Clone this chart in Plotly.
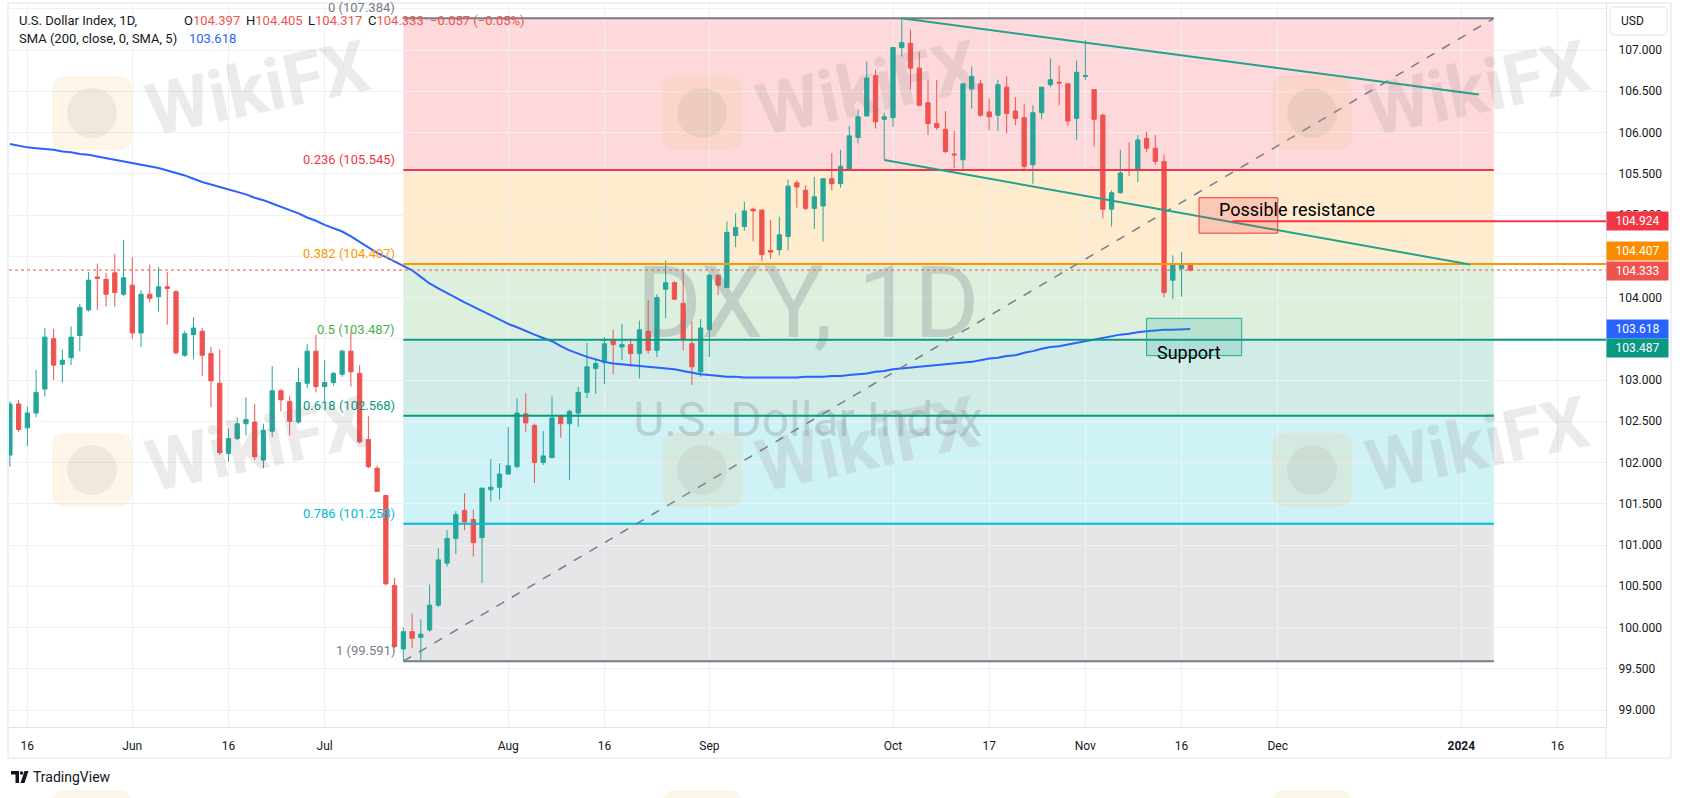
import plotly.graph_objects as go
import pandas as pd

FONT = "Roboto, Arial, sans-serif"
TXT = "#131722"
GRID = "#eef0f3"
BORDER = "#e0e3eb"
UP = "#26a69a"
DOWN = "#ef5350"

# ---------------- data ----------------
dates = pd.bdate_range("2023-05-12", "2023-11-17")

opens = [
    102.09, 102.71, 102.42, 102.60, 102.89, 103.50, 103.19, 103.27, 103.54, 103.85,
    104.25, 104.22, 104.30, 104.04, 104.15, 103.57, 104.04, 104.01, 104.13, 104.07,
    103.30, 103.55, 103.59, 103.32, 102.96, 102.11, 102.29, 102.47, 102.49, 102.03,
    102.38, 102.87, 102.74, 102.49, 102.96, 103.35, 102.92, 102.97, 103.07, 103.35,
    103.08, 102.28, 101.93, 101.60, 100.51, 99.74, 99.95, 99.88, 99.97, 100.27,
    100.78, 101.08, 101.42, 101.31, 101.09, 101.67, 101.70, 101.86, 101.95, 102.59,
    102.45, 102.00, 102.06, 102.56, 102.47, 102.60, 102.85, 103.14, 103.21, 103.48,
    103.40, 103.43, 103.32, 103.59, 103.36, 104.10, 104.18, 103.93, 103.44, 103.10,
    103.61, 104.27, 104.12, 104.75, 104.86, 105.07, 105.06, 104.57, 104.58, 104.74,
    105.39, 105.30, 105.08, 105.11, 105.44, 105.38, 105.55, 105.94, 106.20, 106.69,
    106.16, 106.18, 107.03, 107.08, 106.78, 106.36, 106.11, 106.04, 105.74, 105.67,
    106.53, 106.59, 106.25, 106.21, 106.55, 106.26, 106.18, 105.61, 106.24, 106.58,
    106.61, 106.59, 106.17, 106.68, 106.52, 106.21, 105.07, 105.27, 105.55, 105.54,
    105.93, 105.81, 105.65, 104.21, 104.35, 104.397]

highs = [
    102.74, 102.76, 102.68, 103.12, 103.63, 103.62, 103.37, 103.65, 103.92, 104.31,
    104.41, 104.30, 104.53, 104.70, 104.49, 104.09, 104.40, 104.37, 104.31, 104.09,
    103.60, 103.76, 103.63, 103.40, 103.37, 102.41, 102.55, 102.79, 102.71, 102.47,
    103.17, 102.89, 102.81, 103.15, 103.44, 103.55, 103.24, 103.10, 103.37, 103.58,
    103.18, 102.56, 101.96, 101.61, 100.60, 100.00, 100.17, 100.10, 100.52, 100.96,
    101.18, 101.41, 101.63, 101.43, 101.69, 102.04, 101.99, 102.43, 102.78, 102.84,
    102.47, 102.38, 102.80, 102.58, 102.64, 102.92, 103.45, 103.26, 103.52, 103.61,
    103.68, 103.50, 103.72, 103.97, 104.04, 104.45, 104.20, 104.35, 103.71, 103.74,
    104.29, 104.28, 104.92, 105.02, 105.16, 105.09, 105.06, 104.94, 104.98, 105.43,
    105.42, 105.36, 105.46, 105.44, 105.75, 105.79, 106.08, 106.28, 106.86, 106.76,
    106.24, 107.03, 107.384, 107.25, 106.98, 106.64, 106.64, 106.26, 106.02, 106.59,
    106.80, 106.64, 106.41, 106.64, 106.68, 106.43, 106.35, 106.33, 106.55, 106.90,
    106.81, 106.59, 106.87, 107.12, 106.52, 106.23, 105.30, 105.79, 105.88, 105.97,
    106.01, 105.97, 105.73, 104.51, 104.55, 104.405]

lows = [
    101.95, 102.37, 102.20, 102.55, 102.80, 103.00, 102.97, 103.18, 103.35, 103.83,
    103.85, 103.89, 103.89, 104.02, 103.50, 103.40, 103.94, 103.83, 103.67, 103.31,
    103.28, 103.25, 103.05, 102.67, 102.09, 102.01, 102.27, 102.33, 102.03, 101.93,
    102.31, 102.62, 102.33, 102.47, 102.90, 102.85, 102.74, 102.93, 103.04, 102.92,
    102.23, 101.93, 101.65, 100.51, 99.75, 99.591, 99.75, 99.60, 99.95, 100.25,
    100.74, 100.89, 101.18, 100.86, 100.54, 101.53, 101.55, 101.86, 101.93, 102.37,
    101.75, 101.97, 102.05, 102.30, 101.79, 102.43, 102.78, 102.83, 102.95, 103.07,
    103.24, 103.16, 103.02, 103.32, 103.28, 103.75, 103.97, 103.36, 102.94, 103.04,
    103.28, 104.03, 104.12, 104.61, 104.81, 104.68, 104.44, 104.47, 104.51, 104.57,
    105.09, 105.06, 104.83, 104.68, 105.30, 105.33, 105.54, 105.87, 106.20, 106.05,
    105.67, 106.07, 106.92, 106.52, 106.33, 105.97, 106.03, 105.75, 105.57, 105.55,
    106.29, 106.19, 106.03, 106.02, 105.99, 106.09, 105.53, 105.38, 106.16, 106.55,
    106.33, 106.08, 105.91, 106.64, 105.83, 104.96, 104.86, 105.26, 105.47, 105.40,
    105.76, 105.61, 104.00, 103.98, 104.01, 104.317]

closes = [
    102.71, 102.40, 102.60, 102.85, 103.52, 103.18, 103.24, 103.52, 103.88, 104.21,
    104.23, 104.04, 104.06, 104.24, 103.57, 104.04, 103.99, 104.13, 104.11, 103.33,
    103.56, 103.63, 103.30, 102.99, 102.12, 102.29, 102.47, 102.52, 102.07, 102.39,
    102.87, 102.76, 102.50, 102.97, 103.35, 102.92, 102.97, 103.08, 103.35, 103.10,
    102.25, 101.95, 101.65, 100.53, 99.77, 99.95, 99.87, 99.92, 100.27, 100.82,
    101.08, 101.37, 101.28, 101.03, 101.69, 101.70, 101.86, 101.96, 102.60, 102.48,
    102.00, 102.08, 102.54, 102.47, 102.62, 102.85, 103.16, 103.20, 103.44, 103.43,
    103.43, 103.32, 103.61, 103.36, 104.00, 104.18, 103.98, 103.49, 103.16, 103.63,
    104.27, 104.15, 104.79, 104.85, 105.05, 105.05, 104.52, 104.55, 104.76, 105.35,
    105.34, 105.08, 105.22, 105.44, 105.38, 105.59, 105.96, 106.19, 106.66, 106.13,
    106.19, 107.03, 107.09, 106.78, 106.33, 106.11, 106.06, 105.77, 105.73, 106.59,
    106.68, 106.21, 106.19, 106.58, 106.23, 106.17, 105.59, 106.24, 106.55, 106.64,
    106.60, 106.14, 106.73, 106.69, 106.16, 105.07, 105.27, 105.51, 105.54, 105.91,
    105.81, 105.65, 104.06, 104.39, 104.39, 104.333]

sma200 = [
    105.86, 105.84, 105.82, 105.81, 105.80, 105.79, 105.77, 105.76, 105.74, 105.73,
    105.71, 105.69, 105.67, 105.65, 105.63, 105.61, 105.59, 105.57, 105.54, 105.51,
    105.48, 105.44, 105.40, 105.37, 105.34, 105.31, 105.28, 105.25, 105.21, 105.18,
    105.14, 105.10, 105.06, 105.02, 104.97, 104.93, 104.88, 104.84, 104.80, 104.74,
    104.67, 104.60, 104.54, 104.49, 104.44, 104.39, 104.33, 104.25, 104.17, 104.11,
    104.05, 104.00, 103.94, 103.89, 103.84, 103.78, 103.73, 103.68, 103.64, 103.59,
    103.55, 103.51, 103.47, 103.41, 103.36, 103.32, 103.28, 103.25, 103.22, 103.20,
    103.19, 103.18, 103.17, 103.16, 103.15, 103.14, 103.13, 103.11, 103.09, 103.07,
    103.06, 103.05, 103.04, 103.04, 103.03, 103.03, 103.03, 103.03, 103.03, 103.03,
    103.03, 103.04, 103.04, 103.04, 103.05, 103.05, 103.06, 103.07, 103.08, 103.10,
    103.11, 103.13, 103.14, 103.15, 103.16, 103.17, 103.18, 103.19, 103.20, 103.21,
    103.22, 103.24, 103.26, 103.27, 103.29, 103.30, 103.33, 103.35, 103.38, 103.40,
    103.41, 103.43, 103.45, 103.47, 103.49, 103.51, 103.53, 103.55, 103.56, 103.58,
    103.59, 103.60, 103.61, 103.61, 103.615, 103.618]

n = len(dates)
assert len(opens) == n and len(highs) == n and len(lows) == n and len(closes) == n and len(sma200) == n

tick_dates = ["2023-05-16", "2023-06-01", "2023-06-16", "2023-07-03", "2023-08-01",
              "2023-08-16", "2023-09-01", "2023-10-02", "2023-10-17", "2023-11-01",
              "2023-11-16", "2023-12-01", "2024-01-01", "2024-01-16"]
tick_text = ["16", "Jun", "16", "Jul", "Aug", "16", "Sep", "Oct", "17", "Nov",
             "16", "Dec", "<b>2024</b>", "16"]

# price ticks; labels hidden where the reference covers them with marker labels
price_ticks = [99.0, 99.5, 100.0, 100.5, 101.0, 101.5, 102.0, 102.5, 103.0, 103.5,
               104.0, 104.5, 105.0, 105.5, 106.0, 106.5, 107.0, 107.5]
price_tick_text = ["99.000", "99.500", "100.000", "100.500", "101.000", "101.500",
                   "102.000", "102.500", "103.000", "", "104.000", "", "105.000",
                   "105.500", "106.000", "106.500", "107.000", ""]

# Fibonacci retracement
fib_start = "2023-07-14"
fib_end = "2024-01-04 17:00"
fib_ratios = ["0", "0.236", "0.382", "0.5", "0.618", "0.786", "1"]
fib_prices = [107.384, 105.545, 104.407, 103.487, 102.568, 101.258, 99.591]
fib_colors = ["#787b86", "#f23645", "#ff9800", "#4caf50", "#089981", "#00bcd4", "#787b86"]
fib_fills = ["rgba(242,54,69,0.19)", "rgba(255,152,0,0.19)", "rgba(76,175,80,0.19)",
             "rgba(8,153,129,0.19)", "rgba(0,188,212,0.19)", "rgba(120,123,134,0.19)"]

X_START = "2023-05-11 21:36"
X_END = "2024-01-23 13:00"
Y_RANGE = [98.794, 107.570]

# ---------------- pixel helpers for chrome outside the pane ----------------
PL, PR, PT, PB = 9, 1606, 3, 727


def xp(p):
    return (p - PL) / (PR - PL)


def yp(q):
    return (PB - q) / (PB - PT)


def rr_path(x0, y0, x1, y1, r):
    pts = [("M", x0 + r, y0), ("L", x1 - r, y0), ("Q", x1, y0, x1, y0 + r),
           ("L", x1, y1 - r), ("Q", x1, y1, x1 - r, y1), ("L", x0 + r, y1),
           ("Q", x0, y1, x0, y1 - r), ("L", x0, y0 + r), ("Q", x0, y0, x0 + r, y0)]
    s = ""
    for p in pts:
        cmd = p[0]
        coords = p[1:]
        seg = " ".join(f"{xp(coords[i]):.5f},{yp(coords[i+1]):.5f}" for i in range(0, len(coords), 2))
        s += f"{cmd} {seg} "
    return s + "Z"


def poly_path(points):
    s = "M " + " L ".join(f"{xp(x):.5f},{yp(y):.5f}" for x, y in points)
    return s + " Z"


fig = go.Figure()

# watermark (behind candles)
fig.add_trace(go.Scatter(x=["2023-09-18 06:30"], y=[103.824], mode="text", text=["DXY, 1D"],
                         textfont=dict(size=100, color="rgba(120,123,134,0.28)", family=FONT),
                         hoverinfo="skip", showlegend=False))
fig.add_trace(go.Scatter(x=["2023-09-18 06:30"], y=[102.467], mode="text", text=["U.S. Dollar Index"],
                         textfont=dict(size=48, color="rgba(120,123,134,0.28)", family=FONT),
                         hoverinfo="skip", showlegend=False))

fig.add_trace(go.Candlestick(
    x=dates, open=opens, high=highs, low=lows, close=closes,
    increasing=dict(line=dict(color=UP, width=1), fillcolor=UP),
    decreasing=dict(line=dict(color=DOWN, width=1), fillcolor=DOWN),
    whiskerwidth=0, hoverinfo="skip", showlegend=False))

fig.add_trace(go.Scatter(x=dates, y=sma200, mode="lines", line=dict(color="#2962ff", width=2),
                         hoverinfo="skip", showlegend=False))

shapes = []
annotations = []

# fib zones
for i in range(6):
    shapes.append(dict(type="rect", xref="x", yref="y", x0=fib_start, x1=fib_end,
                       y0=fib_prices[i + 1], y1=fib_prices[i], fillcolor=fib_fills[i],
                       line=dict(width=0), layer="below"))
# fib lines
for i, price in enumerate(fib_prices):
    color = fib_colors[i]
    x1 = fib_end
    if fib_ratios[i] == "0.382":
        x1 = X_END
    if fib_ratios[i] == "0.5":
        x1 = X_END
        color = "#089981"
    shapes.append(dict(type="line", xref="x", yref="y", x0=fib_start, x1=x1, y0=price, y1=price,
                       line=dict(color=color, width=2), layer="above"))
    annotations.append(dict(xref="x", yref="y", x=fib_start, y=price, xanchor="right", yanchor="bottom",
                            xshift=-6, yshift=1, showarrow=False,
                            text=f"{fib_ratios[i]} ({price:.3f})",
                            font=dict(family=FONT, size=13, color=fib_colors[i])))
# fib diagonal
shapes.append(dict(type="line", xref="x", yref="y", x0=fib_start, y0=fib_prices[-1], x1=fib_end,
                   y1=fib_prices[0], line=dict(color="#787b86", width=1.5, dash="dash"), layer="above"))

# trend lines
CH = "#22a38a"
shapes.append(dict(type="line", xref="x", yref="y", x0="2023-10-03", y0=107.384, x1="2024-01-03",
                   y1=106.46, line=dict(color=CH, width=2), layer="above"))
shapes.append(dict(type="line", xref="x", yref="y", x0="2023-09-29", y0=105.667, x1="2024-01-02",
                   y1=104.40, line=dict(color=CH, width=2), layer="above"))

# resistance box & line
shapes.append(dict(type="rect", xref="x", yref="y", x0="2023-11-20", x1="2023-12-01", y0=104.78, y1=105.21,
                   fillcolor="rgba(242,54,69,0.2)", line=dict(color="#f23645", width=1), layer="above"))
shapes.append(dict(type="line", xref="x", yref="y", x0="2023-11-23 20:00", x1=X_END, y0=104.924, y1=104.924,
                   line=dict(color="#f23645", width=2), layer="above"))
annotations.append(dict(xref="x", yref="y", x="2023-11-20", y=105.073, xanchor="left", yanchor="middle",
                        xshift=18, showarrow=False, text="Possible resistance",
                        font=dict(family=FONT, size=18, color="#000000")))
# support box
shapes.append(dict(type="rect", xref="x", yref="y", x0="2023-11-10", x1="2023-11-24 21:00", y0=103.295, y1=103.748,
                   fillcolor="rgba(34,171,148,0.2)", line=dict(color="#22ab94", width=1), layer="above"))
annotations.append(dict(xref="x", yref="y", x="2023-11-16 20:00", y=103.336, xanchor="center", yanchor="middle",
                        showarrow=False, text="Support", font=dict(family=FONT, size=18, color="#000000")))

# current price dotted line
shapes.append(dict(type="line", xref="paper", yref="y", x0=0, x1=1, y0=104.333, y1=104.333,
                   line=dict(color=DOWN, width=1, dash="dot"), layer="above"))

# price axis labels
axis_labels = [(104.924, "#f23645", 0), (104.407, "#fb8c00", 12.6), (104.333, "#ef5350", -0.5),
               (103.618, "#2962ff", -0.4), (103.487, "#089981", -8.5)]
for val, col, ys in axis_labels:
    annotations.append(dict(xref="paper", yref="y", x=1, y=val, xanchor="left", yanchor="middle",
                            yshift=ys, showarrow=False, text=f"{val:.3f}", bgcolor=col,
                            width=61, height=18, borderpad=0, align="center",
                            font=dict(family=FONT, size=12, color="#ffffff")))

# legend (top-left)
annotations.append(dict(xref="paper", yref="paper", x=xp(17), y=yp(20), xanchor="left", yanchor="middle",
                        showarrow=False, text="U.S. Dollar Index, 1D,",
                        font=dict(family=FONT, size=13, color=TXT)))
ohlc = [(182, "O", "104.397"), (244, "H", "104.405"), (306, "L", "104.317"), (366, "C", "104.333")]
for px_, letter, val in ohlc:
    annotations.append(dict(xref="paper", yref="paper", x=xp(px_), y=yp(20), xanchor="left", yanchor="middle",
                            showarrow=False, text=f"{letter}<span style='color:{DOWN}'>{val}</span>",
                            font=dict(family=FONT, size=13, color=TXT)))
annotations.append(dict(xref="paper", yref="paper", x=xp(428), y=yp(20), xanchor="left", yanchor="middle",
                        showarrow=False, text="\u22120.057 (\u22120.05%)",
                        font=dict(family=FONT, size=13, color=DOWN)))
annotations.append(dict(xref="paper", yref="paper", x=xp(17), y=yp(39), xanchor="left", yanchor="middle",
                        showarrow=False, text="SMA (200, close, 0, SMA, 5)",
                        font=dict(family=FONT, size=13, color=TXT)))
annotations.append(dict(xref="paper", yref="paper", x=xp(187), y=yp(39), xanchor="left", yanchor="middle",
                        showarrow=False, text="103.618",
                        font=dict(family=FONT, size=13, color="#2962ff")))

# USD box
shapes.append(dict(type="path", xref="paper", yref="paper", path=rr_path(1610, 7, 1667, 35, 4),
                   line=dict(color=BORDER, width=1), fillcolor="#ffffff", layer="above"))
annotations.append(dict(xref="paper", yref="paper", x=xp(1619), y=yp(21), xanchor="left", yanchor="middle",
                        showarrow=False, text="USD", font=dict(family=FONT, size=12, color=TXT)))

# chart frame
shapes.append(dict(type="rect", xref="paper", yref="paper", x0=xp(8), x1=xp(1671), y0=yp(3), y1=yp(758),
                   line=dict(color=BORDER, width=1), layer="above"))
shapes.append(dict(type="line", xref="paper", yref="paper", x0=xp(1606), x1=xp(1606), y0=yp(727), y1=yp(758),
                   line=dict(color=BORDER, width=1), layer="above"))

# TradingView footer
shapes.append(dict(type="path", xref="paper", yref="paper",
                   path=poly_path([(11, 771), (19, 771), (19, 783), (15.5, 783), (15.5, 774.5), (11, 774.5)]),
                   fillcolor=TXT, line=dict(width=0), layer="above"))
shapes.append(dict(type="circle", xref="paper", yref="paper", x0=xp(19.8), x1=xp(23.2), y0=yp(771.3), y1=yp(774.7),
                   fillcolor=TXT, line=dict(width=0), layer="above"))
shapes.append(dict(type="path", xref="paper", yref="paper",
                   path=poly_path([(24.5, 771), (28.5, 771), (24.5, 783), (20.5, 783)]),
                   fillcolor=TXT, line=dict(width=0), layer="above"))
annotations.append(dict(xref="paper", yref="paper", x=xp(31), y=yp(777), xanchor="left", yanchor="middle",
                        showarrow=False, text="TradingView", font=dict(family=FONT, size=14, color=TXT)))

# WikiFX overlay watermarks (bottom row only peeks in, so only its logo tiles are drawn)
wm_text_centres = [(257, 88), (867, 88), (1477, 88), (257, 445), (867, 445), (1477, 445)]
wm_logo_only = [(92, 827), (702, 827), (1312, 827)]
for tx, ty in wm_text_centres:
    lx, ly = tx - 165, ty + 25
    wm_logo_only.append((lx, ly))
    annotations.append(dict(xref="paper", yref="paper", x=xp(tx), y=yp(ty), xanchor="center", yanchor="middle",
                            showarrow=False, text="<b>WikiFX</b>", textangle=-12,
                            font=dict(family=FONT, size=72, color="rgba(120,105,105,0.14)")))
for lx, ly in wm_logo_only:
    shapes.append(dict(type="path", xref="paper", yref="paper",
                       path=rr_path(lx - 40, ly - 37, lx + 40, ly + 37, 14),
                       fillcolor="rgba(245,195,110,0.16)", line=dict(width=0), layer="above"))
    shapes.append(dict(type="circle", xref="paper", yref="paper", x0=xp(lx - 25), x1=xp(lx + 25),
                       y0=yp(ly - 25), y1=yp(ly + 25), fillcolor="rgba(130,120,120,0.10)",
                       line=dict(width=0), layer="above"))

fig.update_layout(
    width=1682, height=798,
    margin=dict(l=PL, r=1682 - PR, t=PT, b=798 - PB),
    paper_bgcolor="#ffffff", plot_bgcolor="#ffffff",
    showlegend=False, hovermode=False,
    shapes=shapes, annotations=annotations,
    font=dict(family=FONT, color=TXT),
    xaxis=dict(type="date", range=[X_START, X_END], rangebreaks=[dict(bounds=["sat", "mon"])],
               tickvals=tick_dates, ticktext=tick_text, showgrid=True, gridcolor=GRID, gridwidth=1,
               showline=True, linecolor=BORDER, ticks="", ticklabelstandoff=8,
               tickfont=dict(family=FONT, size=12, color=TXT), zeroline=False,
               rangeslider=dict(visible=False), fixedrange=True),
    yaxis=dict(side="right", range=Y_RANGE, tickvals=price_ticks, ticktext=price_tick_text,
               showgrid=True, gridcolor=GRID, gridwidth=1, showline=True, linecolor=BORDER,
               ticks="", ticklabelstandoff=9, tickfont=dict(family=FONT, size=12, color=TXT),
               zeroline=False, fixedrange=True),
)

fig.write_html("out.html", config={"displayModeBar": False},
               post_script="document.body.style.margin='0px';document.body.style.overflow='hidden';")
